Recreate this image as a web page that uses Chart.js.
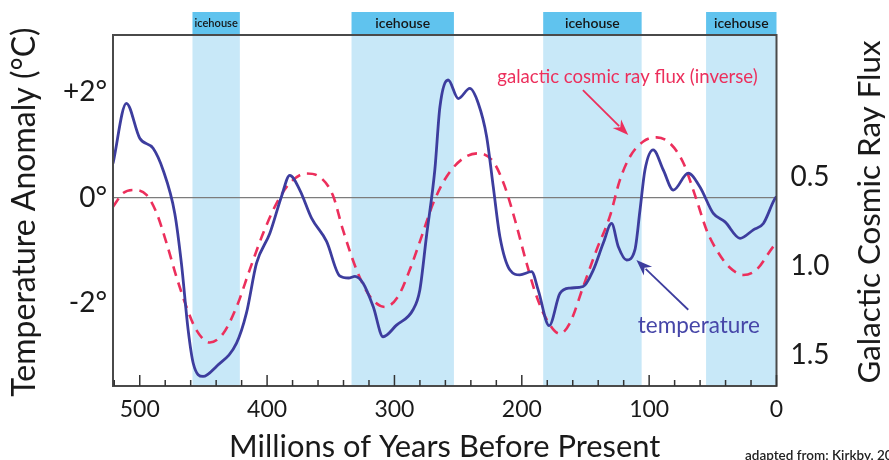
<!DOCTYPE html>
<html><head><meta charset="utf-8">
<script src="https://cdn.jsdelivr.net/npm/chart.js@4.4.1/dist/chart.umd.min.js"></script>
<style>html,body{margin:0;padding:0;background:#fff;}#wrap{width:889px;height:460px;position:relative;}</style>
</head><body><div id="wrap"><canvas id="c"></canvas></div>
<script>
// ---- data ----
const tempAges = [521, 510.5, 500, 489.5, 481.7, 472.5, 467.3, 462, 458, 450.3, 439.8, 424, 416.2, 408.3, 397.9, 388.7, 382.2, 374.3, 365.1, 353.3, 343, 336, 331, 324.6, 316.7, 308.9, 298.4, 285.4, 280.1, 274.9, 268.3, 264.3, 257.8, 249.9, 240.8, 234.2, 227.6, 222.4, 217.2, 209.3, 201.5, 192.3, 187.1, 178.5, 170, 162.2, 151.8, 143.9, 136, 129.5, 124.2, 117.7, 111.2, 107.2, 103.3, 96.8, 88.9, 81, 69.3, 60.1, 49.6, 40.4, 28.6, 18.2, 10.3, 1.9, 0];
const tempValues = [0.645, 1.78, 1.12, 0.93, 0.52, -0.30, -1.24, -2.5, -3.13, -3.38, -3.19, -2.75, -2.18, -1.24, -0.68, 0.02, 0.42, 0.14, -0.39, -0.83, -1.48, -1.52, -1.49, -1.62, -2.06, -2.63, -2.41, -2.12, -1.75, -0.74, 0.52, 1.71, 2.22, 1.87, 2.06, 1.78, 1.15, 0.20, -0.74, -1.37, -1.46, -1.40, -1.75, -2.42, -1.81, -1.71, -1.68, -1.37, -0.86, -0.49, -0.93, -1.18, -0.99, -0.24, 0.52, 0.90, 0.52, 0.14, 0.46, 0.20, -0.30, -0.46, -0.77, -0.61, -0.49, -0.05, 0.02];
const fluxAges = [521, 513, 504, 494.7, 486.9, 479, 471.2, 463.3, 455.5, 445, 434.6, 424, 413.6, 403.1, 392.6, 382.2, 369.1, 358.6, 348.5, 340.3, 329.8, 319.3, 307.5, 297.1, 287.9, 278.7, 269.6, 259.1, 246, 234.2, 222.4, 213.3, 205.4, 196.2, 188.4, 180.5, 170.1, 162.2, 151.8, 141.3, 130.8, 123, 115.1, 104.6, 94.1, 83.7, 73.2, 62.7, 54.8, 47, 36.5, 26, 15.6, 2.5, 0];
const fluxValues = [0.667, 0.59, 0.573, 0.60, 0.70, 0.87, 1.06, 1.23, 1.36, 1.43, 1.38, 1.23, 1.02, 0.816, 0.648, 0.535, 0.48, 0.50, 0.60, 0.80, 1.02, 1.17, 1.23, 1.17, 1.02, 0.835, 0.648, 0.498, 0.395, 0.367, 0.414, 0.554, 0.74, 0.985, 1.17, 1.30, 1.38, 1.32, 1.116, 0.91, 0.72, 0.517, 0.386, 0.30, 0.277, 0.31, 0.42, 0.63, 0.80, 0.91, 1.01, 1.05, 1.02, 0.89, 0.87];
const icehouseStart = [458.6, 333.7, 183.2, 55.3];
const icehouseEnd = [421.4, 253.3, 105.9, 0];
const icehouseLabels = ['icehouse', 'icehouse', 'icehouse', 'icehouse'];
const tempTicks = [-2, 0, 2];
const fluxTicks = [0.5, 1.0, 1.5];
const ageTicks = [0, 20, 40, 60, 80, 100, 120, 140, 160, 180, 200, 220, 240, 260, 280, 300, 320, 340, 360, 380, 400, 420, 440, 460, 480, 500, 520];

const FONT = 'Lato, "Open Sans", sans-serif';
const BLUE = '#3d3d9e';
const RED = '#ec2f5c';

function fitSize(ctx, text, target, weight) {
  ctx.font = (weight || '') + ' 100px ' + FONT;
  return 100 * target / ctx.measureText(text).width;
}
function arrow(ctx, x0, y0, x1, y1, color, len, wid) {
  const ang = Math.atan2(y1 - y0, x1 - x0);
  ctx.strokeStyle = color; ctx.fillStyle = color; ctx.lineWidth = 1.8;
  ctx.beginPath(); ctx.moveTo(x0, y0);
  ctx.lineTo(x1 - Math.cos(ang) * len * 0.8, y1 - Math.sin(ang) * len * 0.8); ctx.stroke();
  ctx.beginPath(); ctx.moveTo(x1, y1);
  ctx.lineTo(x1 - Math.cos(ang) * len + Math.sin(ang) * wid / 2, y1 - Math.sin(ang) * len - Math.cos(ang) * wid / 2);
  ctx.lineTo(x1 - Math.cos(ang) * len * 0.7, y1 - Math.sin(ang) * len * 0.7);
  ctx.lineTo(x1 - Math.cos(ang) * len - Math.sin(ang) * wid / 2, y1 - Math.sin(ang) * len + Math.cos(ang) * wid / 2);
  ctx.closePath(); ctx.fill();
}

const decor = {
  id: 'decor',
  beforeDatasetsDraw(chart) {
    const { ctx, chartArea: a, scales: { x, y } } = chart;
    ctx.save();
    for (let i = 0; i < icehouseStart.length; i++) {
      const x0 = x.getPixelForValue(icehouseStart[i]), x1 = x.getPixelForValue(icehouseEnd[i]);
      ctx.fillStyle = '#c8e8f8';
      ctx.fillRect(x0, a.top, x1 - x0, a.bottom - a.top);
      ctx.fillStyle = '#60c3ee';
      ctx.fillRect(x0, a.top - 23, x1 - x0, 23);
      ctx.fillStyle = '#161616';
      ctx.font = '600 14px ' + FONT;
      ctx.textAlign = 'center'; ctx.textBaseline = 'middle';
      const w = ctx.measureText(icehouseLabels[i]).width, maxw = (x1 - x0) - 4;
      ctx.save();
      ctx.translate((x0 + x1) / 2, a.top - 12);
      if (w > maxw) ctx.scale(maxw / w, 0.8);
      ctx.fillText(icehouseLabels[i], 0, 0);
      ctx.restore();
    }
    const yz = y.getPixelForValue(0);
    ctx.strokeStyle = '#7c7c7c'; ctx.lineWidth = 1.3;
    ctx.beginPath(); ctx.moveTo(a.left, yz); ctx.lineTo(a.right, yz); ctx.stroke();
    ctx.restore();
  },
  afterDatasetsDraw(chart) {
    const { ctx, chartArea: a, scales: { x, y } } = chart;
    ctx.save();
    // frame
    ctx.strokeStyle = '#4a4a4a'; ctx.lineWidth = 2;
    ctx.strokeRect(a.left, a.top, a.right - a.left, a.bottom - a.top);
    // inner ticks
    ctx.strokeStyle = '#333'; ctx.lineWidth = 1.5;
    ageTicks.forEach(v => {
      const px = x.getPixelForValue(v);
      const len = v % 100 === 0 ? 11 : 6;
      ctx.beginPath(); ctx.moveTo(px, a.bottom); ctx.lineTo(px, a.bottom - len); ctx.stroke();
    });
    // annotations
    arrow(ctx, x.getPixelForValue(152), y.getPixelForValue(2.03), x.getPixelForValue(116.4), y.getPixelForValue(1.18), RED, 16, 12);
    arrow(ctx, x.getPixelForValue(69.3), y.getPixelForValue(-2.12), x.getPixelForValue(110), y.getPixelForValue(-1.18), BLUE, 16, 12);
    ctx.textAlign = 'center'; ctx.textBaseline = 'alphabetic';
    ctx.fillStyle = RED;
    let s = fitSize(ctx, 'galactic cosmic ray flux (inverse)', 261);
    ctx.font = s.toFixed(1) + 'px ' + FONT;
    ctx.fillText('galactic cosmic ray flux (inverse)', x.getPixelForValue(117), y.getPixelForValue(2.17));
    ctx.fillStyle = '#4646a8';
    s = fitSize(ctx, 'temperature', 122);
    ctx.font = s.toFixed(1) + 'px ' + FONT;
    ctx.fillText('temperature', x.getPixelForValue(61), y.getPixelForValue(-2.55));
    // axis titles
    ctx.fillStyle = '#1a1a1a';
    s = fitSize(ctx, 'Millions of Years Before Present', 432);
    ctx.font = s.toFixed(1) + 'px ' + FONT;
    ctx.fillText('Millions of Years Before Present', (a.left + a.right) / 2, 457);
    ctx.save();
    ctx.translate(35, 212); ctx.rotate(-Math.PI / 2);
    s = fitSize(ctx, 'Temperature Anomaly (°C)', 369);
    ctx.font = s.toFixed(1) + 'px ' + FONT;
    ctx.fillText('Temperature Anomaly (°C)', 0, 0);
    ctx.restore();
    ctx.save();
    ctx.translate(880, 212); ctx.rotate(-Math.PI / 2);
    s = fitSize(ctx, 'Galactic Cosmic Ray Flux', 343);
    ctx.font = s.toFixed(1) + 'px ' + FONT;
    ctx.fillText('Galactic Cosmic Ray Flux', 0, 0);
    ctx.restore();
    // credit (clipped by the right edge, as in the original)
    ctx.textAlign = 'left';
    ctx.font = '600 13.5px ' + FONT;
    ctx.fillStyle = '#222';
    ctx.fillText('adapted from: Kirkby, 2007', 745, 460);
    ctx.restore();
  }
};

new Chart(document.getElementById('c'), {
  type: 'line',
  data: {
    datasets: [
      {
        label: 'temperature',
        data: tempAges.map((a, i) => ({ x: a, y: tempValues[i] })),
        borderColor: BLUE, borderWidth: 2.8, pointRadius: 0,
        cubicInterpolationMode: 'monotone', yAxisID: 'y', fill: false
      },
      {
        label: 'galactic cosmic ray flux (inverse)',
        data: fluxAges.map((a, i) => ({ x: a, y: fluxValues[i] })),
        borderColor: RED, borderWidth: 2.6, borderDash: [10, 7], pointRadius: 0,
        cubicInterpolationMode: 'monotone', yAxisID: 'y1', fill: false
      }
    ]
  },
  options: {
    responsive: true, maintainAspectRatio: false, animation: false,
    layout: { padding: { top: 35, left: 0, right: 0, bottom: 0 } },
    plugins: { legend: { display: false }, tooltip: { enabled: false } },
    scales: {
      x: {
        type: 'linear', reverse: true, min: 0, max: 521,
        afterBuildTicks: s => { s.ticks = ageTicks.map(v => ({ value: v })); },
        afterFit: s => { s.height = 74; },
        grid: { display: false, drawTicks: false }, border: { display: false },
        ticks: {
          autoSkip: false, maxRotation: 0, padding: 10, color: '#1a1a1a',
          font: { family: FONT, size: 23 },
          callback: v => (v % 100 === 0 ? String(v) : '')
        }
      },
      y: {
        position: 'left', min: -3.56, max: 3.07,
        afterBuildTicks: s => { s.ticks = tempTicks.map(v => ({ value: v })); },
        afterFit: s => { s.width = 113; },
        grid: { display: false, drawTicks: false }, border: { display: false },
        ticks: {
          padding: 6, color: '#1a1a1a', font: { family: FONT, size: 28 },
          callback: v => (v > 0 ? '+' + v + '°' : v + '°')
        }
      },
      y1: {
        position: 'right', reverse: true, min: -0.298, max: 1.674,
        afterBuildTicks: s => { s.ticks = fluxTicks.map(v => ({ value: v })); },
        afterFit: s => { s.width = 112.5; },
        grid: { display: false, drawTicks: false }, border: { display: false },
        ticks: {
          padding: 14, color: '#1a1a1a', font: { family: FONT, size: 28 },
          callback: v => Number(v).toFixed(1)
        }
      }
    }
  },
  plugins: [decor]
});
</script>
</body></html>
